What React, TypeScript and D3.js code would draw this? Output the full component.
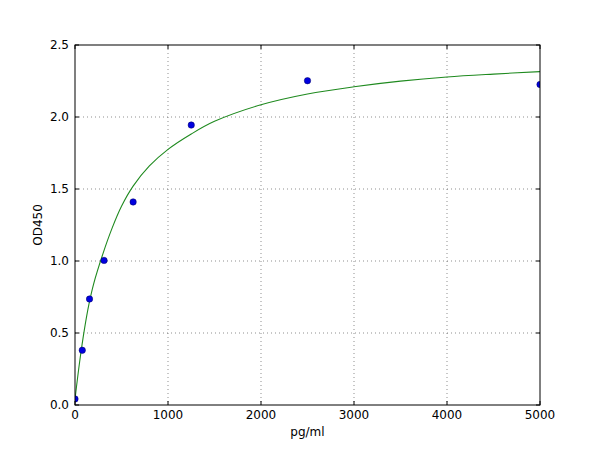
import React, { useEffect, useRef } from "react";
import * as d3 from "d3";

// standard points
const concentrations = [0, 78.125, 156.25, 312.5, 625, 1250, 2500, 5000];
const odValues = [0.042, 0.38, 0.736, 1.004, 1.41, 1.944, 2.252, 2.226];

// fitted curve
const curveX = [0, 50, 100, 150, 200, 300, 400, 500, 625, 800, 1000, 1250, 1500, 2000, 2500, 3000, 3500, 4000, 4500, 5000];
const curveY = [0.04, 0.3, 0.52, 0.7, 0.84, 1.05, 1.23, 1.38, 1.52, 1.66, 1.775, 1.882, 1.97, 2.085, 2.16, 2.21, 2.249, 2.278, 2.298, 2.315];

const xTicks = [0, 1000, 2000, 3000, 4000, 5000];
const yTicks = [0.0, 0.5, 1.0, 1.5, 2.0, 2.5];

export default function App() {
  const ref = useRef<SVGSVGElement | null>(null);

  useEffect(() => {
    const width = 600;
    const height = 450;
    const margin = { top: 45, right: 60, bottom: 45, left: 75 };
    const innerW = width - margin.left - margin.right;
    const innerH = height - margin.top - margin.bottom;

    const svg = d3.select(ref.current);
    svg.selectAll("*").remove();
    svg.attr("width", width).attr("height", height).attr("viewBox", `0 0 ${width} ${height}`);

    svg.append("rect").attr("width", width).attr("height", height).attr("fill", "#fff");

    const x = d3.scaleLinear().domain([0, 5000]).range([0, innerW]);
    const y = d3.scaleLinear().domain([0, 2.5]).range([innerH, 0]);

    const main = svg
      .append("g")
      .attr("transform", `translate(${margin.left}, ${margin.top})`);

    svg
      .append("defs")
      .append("clipPath")
      .attr("id", "plot-clip")
      .append("rect")
      .attr("width", innerW)
      .attr("height", innerH);

    // grid
    const grid = main.append("g").attr("class", "grid");
    grid
      .selectAll(".gx")
      .data(xTicks.slice(1, -1))
      .enter()
      .append("line")
      .attr("x1", (d) => x(d))
      .attr("x2", (d) => x(d))
      .attr("y1", 0)
      .attr("y2", innerH)
      .attr("stroke", "#444")
      .attr("stroke-width", 0.6)
      .attr("stroke-dasharray", "1,3");
    grid
      .selectAll(".gy")
      .data(yTicks.slice(1, -1))
      .enter()
      .append("line")
      .attr("x1", 0)
      .attr("x2", innerW)
      .attr("y1", (d) => y(d))
      .attr("y2", (d) => y(d))
      .attr("stroke", "#444")
      .attr("stroke-width", 0.6)
      .attr("stroke-dasharray", "1,3");

    // curve
    const line = d3
      .line<number>()
      .x((d, i) => x(curveX[i]))
      .y((d) => y(d))
      .curve(d3.curveCatmullRom.alpha(0.5));
    main
      .append("path")
      .attr("clip-path", "url(#plot-clip)")
      .attr("d", line(curveY) as string)
      .attr("fill", "none")
      .attr("stroke", "#1f8a1f")
      .attr("stroke-width", 1.1);

    // points
    main
      .append("g")
      .attr("clip-path", "url(#plot-clip)")
      .selectAll("circle")
      .data(odValues)
      .enter()
      .append("circle")
      .attr("cx", (d, i) => x(concentrations[i]))
      .attr("cy", (d) => y(d))
      .attr("r", 3.2)
      .attr("fill", "#0000e0")
      .attr("stroke", "#000060")
      .attr("stroke-width", 0.5);

    // ticks (inside, all four sides)
    const ticks = main.append("g").attr("stroke", "#000").attr("stroke-width", 1);
    xTicks.forEach((t) => {
      ticks.append("line").attr("x1", x(t)).attr("x2", x(t)).attr("y1", innerH).attr("y2", innerH - 4);
      ticks.append("line").attr("x1", x(t)).attr("x2", x(t)).attr("y1", 0).attr("y2", 4);
    });
    yTicks.forEach((t) => {
      ticks.append("line").attr("x1", 0).attr("x2", 4).attr("y1", y(t)).attr("y2", y(t));
      ticks.append("line").attr("x1", innerW).attr("x2", innerW - 4).attr("y1", y(t)).attr("y2", y(t));
    });

    // frame
    main
      .append("rect")
      .attr("width", innerW)
      .attr("height", innerH)
      .attr("fill", "none")
      .attr("stroke", "#000")
      .attr("stroke-width", 1);

    const font = "'DejaVu Sans', sans-serif";

    main
      .selectAll(".xl")
      .data(xTicks)
      .enter()
      .append("text")
      .attr("x", (d) => x(d))
      .attr("y", innerH + 14)
      .attr("text-anchor", "middle")
      .attr("font-family", font)
      .attr("font-size", 12)
      .attr("fill", "#000")
      .text((d) => d3.format("d")(d));

    main
      .selectAll(".yl")
      .data(yTicks)
      .enter()
      .append("text")
      .attr("x", -6)
      .attr("y", (d) => y(d))
      .attr("dy", "0.35em")
      .attr("text-anchor", "end")
      .attr("font-family", font)
      .attr("font-size", 12)
      .attr("fill", "#000")
      .text((d) => d3.format(".1f")(d));

    main
      .append("text")
      .attr("x", innerW / 2)
      .attr("y", innerH + 31)
      .attr("text-anchor", "middle")
      .attr("font-family", font)
      .attr("font-size", 12)
      .attr("fill", "#000")
      .text("pg/ml");

    main
      .append("text")
      .attr("transform", `translate(${-33}, ${innerH / 2}) rotate(-90)`)
      .attr("text-anchor", "middle")
      .attr("font-family", font)
      .attr("font-size", 12)
      .attr("fill", "#000")
      .text("OD450");
  }, []);

  return (
    <div style={{ position: "fixed", left: 0, top: 0 }}>
      <svg ref={ref} style={{ display: "block" }}></svg>
    </div>
  );
}
